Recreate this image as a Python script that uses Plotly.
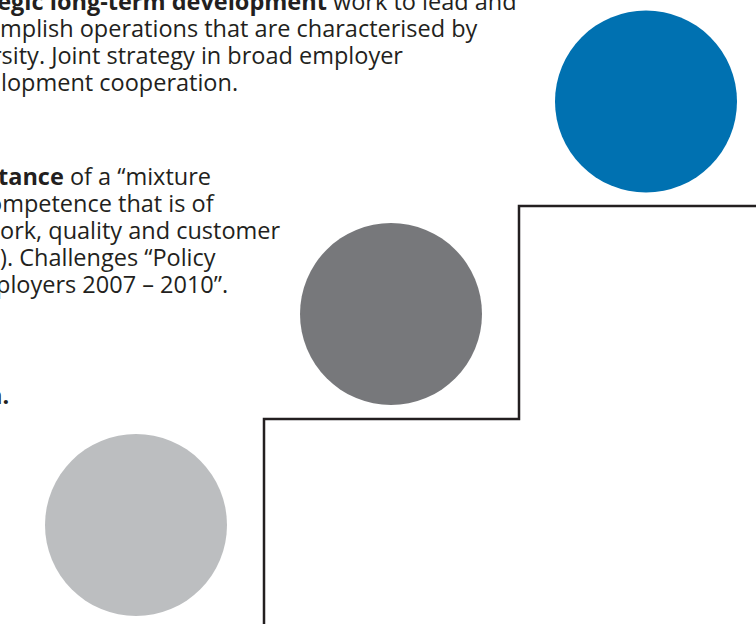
import plotly.graph_objects as go

# Text fragments (visible parts of the diagram text), top to bottom
text_lines = [
    "<b>tegic long-term development</b> work to lead and",
    "mplish operations that are characterised by",
    "rsity. Joint strategy in broad employer",
    "lopment cooperation.",
    "<b>tance</b> of a “mixture",
    "ompetence that is of",
    "ork, quality and customer",
    "). Challenges “Policy",
    "ployers 2007 – 2010”.",
    "<b>n.</b>",
]
text_right_edges = [519, 480, 405, 240, 213, 217, 283, 218, 230, 11]
text_baselines = [10, 37, 64, 91, 185, 212, 239, 266, 293, 404]

# Steps (low -> high) : circle colours
step_names = ["Step 1", "Step 2", "Step 3"]
step_colors = ["#bcbec0", "#77787b", "#0071b1"]
circle_x = [136, 391, 646]
circle_y = [525, 314, 101.5]

# Staircase outline
stair_x = [264, 264, 519, 519, 756]
stair_y = [624, 419, 419, 206, 206]

W, H = 756, 624
fig = go.Figure()

fig.add_trace(go.Scatter(
    x=stair_x, y=stair_y, mode="lines",
    line=dict(color="#231f20", width=2.5),
    hoverinfo="skip", showlegend=False,
))

fig.add_trace(go.Scatter(
    x=circle_x, y=circle_y, mode="markers",
    marker=dict(size=182, color=step_colors, line=dict(width=0)),
    text=step_names, hoverinfo="text", showlegend=False,
))

FS = 23.5
for t, xr, yb in zip(text_lines, text_right_edges, text_baselines):
    fig.add_annotation(
        x=xr / W, y=1 - (yb - 0.40 * FS) / H, xref="paper", yref="paper",
        text=t, showarrow=False, xanchor="right", yanchor="middle",
        font=dict(family="Open Sans", size=FS, color="#231f20"),
    )

fig.update_layout(
    width=W, height=H,
    margin=dict(l=0, r=0, t=0, b=0),
    paper_bgcolor="white", plot_bgcolor="white",
    xaxis=dict(range=[0, W], visible=False, fixedrange=True),
    yaxis=dict(range=[H, 0], visible=False, fixedrange=True),
)

fig.write_html(
    "out.html",
    config={"displayModeBar": False},
    post_script="document.body.style.margin='0';document.body.style.padding='0';",
)
